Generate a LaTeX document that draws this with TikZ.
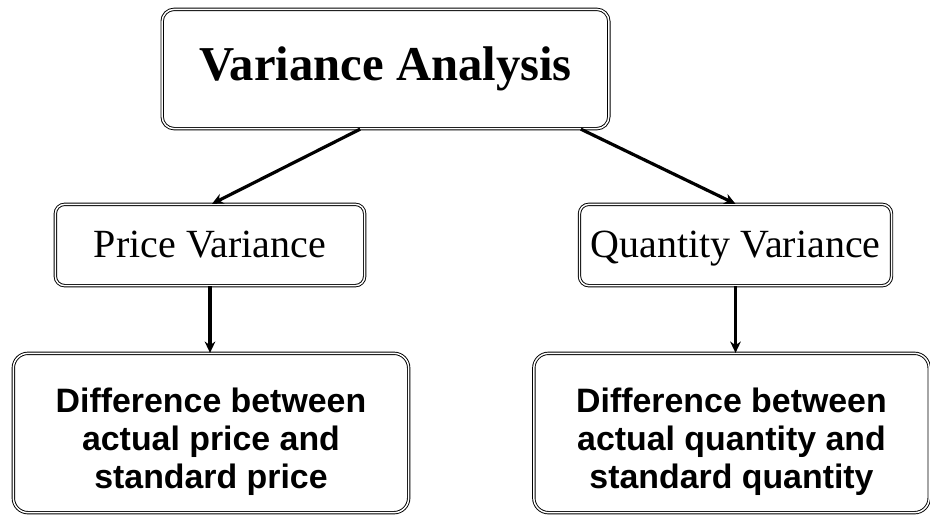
\documentclass[tikz,border=0pt]{standalone}
\usepackage{fontspec}
\setmainfont{Liberation Serif}
\newfontfamily\arialfont{Liberation Sans}
\usepackage{tikz}
\usetikzlibrary{arrows.meta,positioning,calc}

\begin{document}
\begin{tikzpicture}[
    x=0.75pt, y=-0.75pt,
    box/.style={rectangle, draw, double, double distance=1.1pt, line width=0.7pt, rounded corners=9pt, align=center, inner sep=0pt},
    small/.style={box, rounded corners=7pt, minimum height=61pt, text height=24pt, text depth=6pt, font=\fontsize{30}{34}\selectfont},
    detail/.style={box, rounded corners=11pt, minimum width=296.5pt, minimum height=119.5pt, font=\fontsize{25.4}{28.5}\selectfont\arialfont\bfseries},
    arrow/.style={->, >={Stealth[length=8.5pt,width=8pt]}, line width=2.4pt}
]
    \useasboundingbox (0,0) rectangle (930,515);

    \node[box, minimum width=335pt, minimum height=89.5pt, font=\fontsize{36.5}{40}\selectfont\bfseries] (va) at (385.5,69) {Variance Analysis};
    \node[small, minimum width=232pt] (pv) at (210,245) {Price Variance};
    \node[small, minimum width=234pt] (qv) at (735.5,245) {Quantity Variance};
    \node[detail] (pd) at (211,433) {\rule{0pt}{32pt}Difference between\\actual price and\\standard price};
    \node[detail] (qd) at (731.5,433) {\rule{0pt}{32pt}Difference between\\actual quantity and\\standard quantity};

    \draw[arrow] ([xshift=-19pt]va.south) -- ([xshift=1.5pt]pv.north);
    \draw[arrow] ([xshift=146.5pt]va.south) -- (qv.north);
    \draw[arrow] (pv.south) -- (pv.south |- pd.north);
    \draw[arrow] (qv.south) -- (qv.south |- qd.north);
\end{tikzpicture}
\end{document}
